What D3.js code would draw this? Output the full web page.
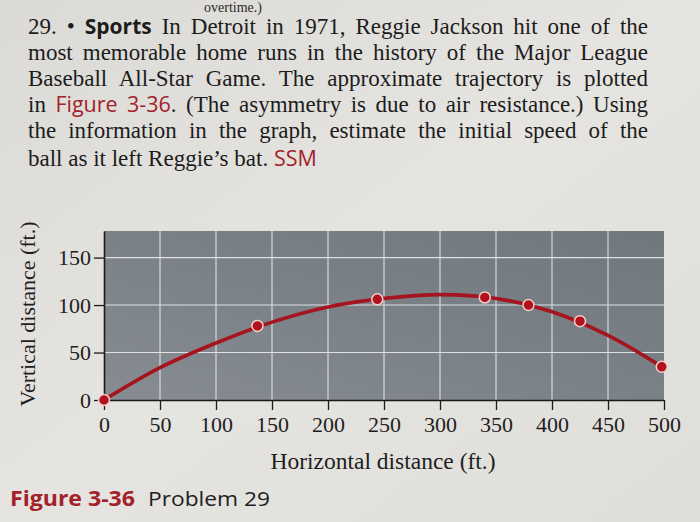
<!DOCTYPE html>
<html>
<head>
<meta charset="utf-8">
<script src="https://cdn.jsdelivr.net/npm/d3@7"></script>
<style>
  html, body { margin: 0; padding: 0; background: #e2e0dc; }
  svg { display: block; }
</style>
</head>
<body>
<script>
// ---------- data ----------
const xTicks = [0, 50, 100, 150, 200, 250, 300, 350, 400, 450, 500];
const yTicks = [0, 50, 100, 150];
// plotted data points (ft)
const markerX = [0, 137, 244, 340, 379, 425, 498];
const markerY = [0, 78, 106, 108, 100, 83, 35];
// trajectory curve readings (ft)
const trajX = [0, 50, 100, 150, 200, 250, 300, 350, 400, 450, 498];
const trajY = [0, 34, 60, 82, 98, 107, 111, 107, 93, 68, 35];

const xTitle = "Horizontal distance (ft.)";
const yTitle = "Vertical distance (ft.)";
const captionFig = "Figure 3-36";
const captionText = "Problem 29";
const topFragment = "overtime.)";
// paragraph lines: segments [text, style]
const paragraph = [
  [["29. • ", "n"], ["Sports", "b"], [" In Detroit in 1971, Reggie Jackson hit one of the", "n"]],
  [["most memorable home runs in the history of the Major League", "n"]],
  [["Baseball All-Star Game. The approximate trajectory is plotted", "n"]],
  [["in ", "n"], ["Figure 3-36", "r"], [". (The asymmetry is due to air resistance.) Using", "n"]],
  [["the information in the graph, estimate the initial speed of the", "n"]],
  [["ball as it left Reggie’s bat. ", "n"], ["SSM", "r"]]
];

// ---------- layout ----------
const W = 700, H = 522;
const RED = "#a3222a";
const SERIF = "'Liberation Serif', 'DejaVu Serif', serif";
const SANS = "'Open Sans', 'Noto Sans', 'Liberation Sans', sans-serif";

const svg = d3.select("body").append("svg")
  .attr("width", W).attr("height", H)
  .attr("viewBox", `0 0 ${W} ${H}`);

const defs = svg.append("defs");
const bg = defs.append("linearGradient").attr("id", "paper")
  .attr("x1", 0).attr("y1", 0).attr("x2", 1).attr("y2", 1);
bg.append("stop").attr("offset", 0).attr("stop-color", "#dcdad6");
bg.append("stop").attr("offset", 0.5).attr("stop-color", "#e6e4e1");
bg.append("stop").attr("offset", 1).attr("stop-color", "#e0deda");
svg.append("rect").attr("width", W).attr("height", H).attr("fill", "url(#paper)");

const plotG = defs.append("linearGradient").attr("id", "plotbg")
  .attr("x1", 0).attr("y1", 1).attr("x2", 1).attr("y2", 0);
plotG.append("stop").attr("offset", 0).attr("stop-color", "#868c91");
plotG.append("stop").attr("offset", 1).attr("stop-color", "#70777d");

// fragment of the previous problem at the page top
svg.append("text").attr("x", 262).attr("y", 12).attr("text-anchor", "end")
  .attr("font-family", SERIF).attr("font-size", 14).attr("fill", "#2a2a2a")
  .text(topFragment);

// paragraph
const lineBase = [34, 60, 86, 112, 138, 166];
const leftX = 28, rightX = 648;
paragraph.forEach((segs, i) => {
  const t = svg.append("text").attr("x", leftX).attr("y", lineBase[i])
    .attr("font-family", SERIF).attr("font-size", 23).attr("fill", "#1c1c1c");
  segs.forEach(([s, st]) => {
    const sp = t.append("tspan").text(s);
    if (st === "b") sp.attr("font-family", SANS).attr("font-weight", "bold").attr("font-size", 21);
    if (st === "r") sp.attr("font-family", SANS).attr("fill", RED).attr("font-size", 21.5);
  });
  if (i < paragraph.length - 1) {
    const w = t.node().getComputedTextLength();
    const n = segs.map(d => d[0]).join("").split(" ").length - 1;
    const ws = (rightX - leftX - w) / n;
    t.attr("word-spacing", ws);
  }
});

// scales
const x = d3.scaleLinear().domain([0, 500]).range([104, 664]);
const y = d3.scaleLinear().domain([0, 178]).range([400, 231]);

// plot background
svg.append("rect")
  .attr("x", x(0)).attr("y", y(178))
  .attr("width", x(500) - x(0)).attr("height", y(0) - y(178))
  .attr("fill", "url(#plotbg)");

// grid
const grid = svg.append("g").attr("stroke", "#e8ecef").attr("stroke-width", 1.1).attr("opacity", 0.9);
grid.selectAll("line.v").data(xTicks.filter(d => d > 0 && d < 500)).join("line")
  .attr("class", "v")
  .attr("x1", d => x(d)).attr("x2", d => x(d))
  .attr("y1", y(178)).attr("y2", y(0));
grid.selectAll("line.h").data(yTicks.filter(d => d > 0)).join("line")
  .attr("class", "h")
  .attr("x1", x(0)).attr("x2", x(500))
  .attr("y1", d => y(d)).attr("y2", d => y(d));

// axes
const yAxis = svg.append("g").attr("transform", `translate(${x(0)},0)`)
  .call(d3.axisLeft(y).tickValues(yTicks).tickSize(10).tickSizeOuter(0).tickPadding(3));
const xAxis = svg.append("g").attr("transform", `translate(0,${y(0)})`)
  .call(d3.axisBottom(x).tickValues(xTicks).tickSize(10).tickSizeOuter(0).tickPadding(6));
[xAxis, yAxis].forEach(a => {
  a.select(".domain").attr("stroke", "#1a1a1a").attr("stroke-width", 1.6);
  a.selectAll(".tick line").attr("stroke", "#1a1a1a").attr("stroke-width", 1.3);
  a.selectAll(".tick text").attr("font-family", SERIF).attr("font-size", 22).attr("fill", "#1e1e1e");
});

// trajectory
const traj = trajX.map((d, i) => [d, trajY[i]]);
svg.append("path").datum(traj)
  .attr("fill", "none").attr("stroke", "#a5141f").attr("stroke-width", 3.6)
  .attr("stroke-linecap", "round")
  .attr("d", d3.line().x(d => x(d[0])).y(d => y(d[1])).curve(d3.curveCatmullRom));

// markers
svg.selectAll("circle.pt").data(markerX.map((d, i) => [d, markerY[i]])).join("circle")
  .attr("class", "pt")
  .attr("cx", d => x(d[0])).attr("cy", d => y(d[1])).attr("r", 5.5)
  .attr("fill", "#b0121e").attr("stroke", "#f2d0cb").attr("stroke-width", 1.5);

// axis titles
svg.append("text").attr("x", 383).attr("y", 469).attr("text-anchor", "middle")
  .attr("font-family", SERIF).attr("font-size", 23.5).attr("fill", "#1e1e1e")
  .text(xTitle);
svg.append("text").attr("transform", "translate(35,314) rotate(-90)")
  .attr("text-anchor", "middle")
  .attr("font-family", SERIF).attr("font-size", 22).attr("fill", "#1e1e1e")
  .text(yTitle);

// caption
svg.append("text").attr("x", 10).attr("y", 506)
  .attr("font-family", SANS).attr("font-weight", "bold").attr("font-size", 22)
  .attr("fill", RED).attr("textLength", 125).attr("lengthAdjust", "spacingAndGlyphs")
  .text(captionFig);
svg.append("text").attr("x", 148).attr("y", 506)
  .attr("font-family", SANS).attr("font-size", 20).attr("fill", "#1e1e1e")
  .attr("textLength", 122).attr("lengthAdjust", "spacingAndGlyphs")
  .text(captionText);
</script>
</body>
</html>
